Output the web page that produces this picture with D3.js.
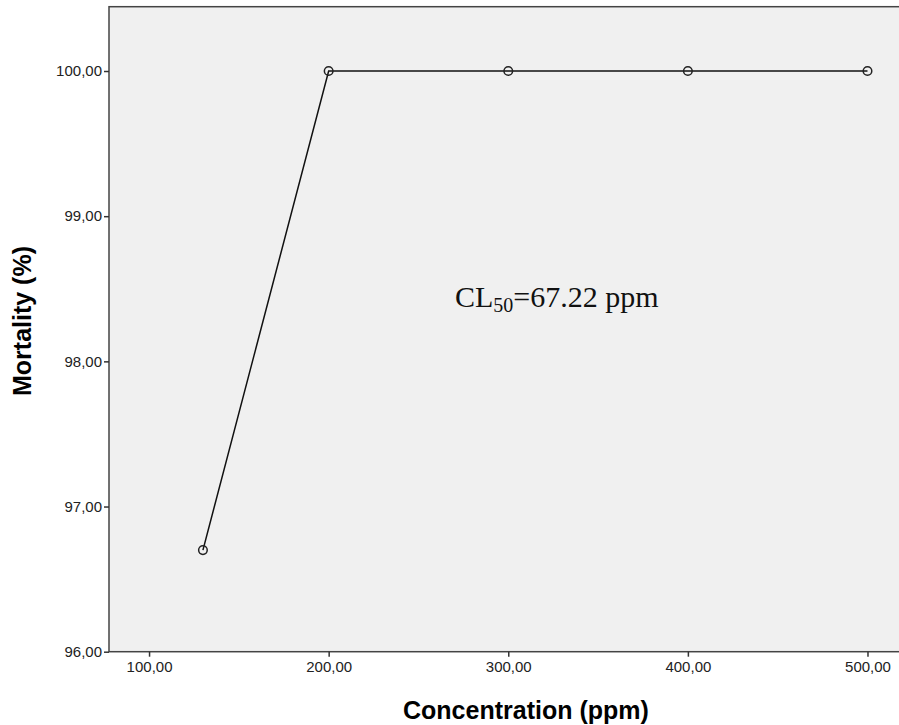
<!DOCTYPE html>
<html><head><meta charset="utf-8">
<script src="https://cdn.jsdelivr.net/npm/d3@7"></script>
<style>body{margin:0;background:#fff}svg{display:block}</style>
</head><body>
<script>
const concentration = [130, 200, 300, 400, 500];
const mortality = [96.7, 100, 100, 100, 100];
const xTicks = [100, 200, 300, 400, 500];
const yTicks = [96, 97, 98, 99, 100];
const xTitle = "Concentration (ppm)";
const yTitle = "Mortality (%)";

const W = 899, H = 725;
const m = {left: 109, top: 6.7, right: 0, bottom: 73.3};
const svg = d3.select("body").append("svg").attr("width", W).attr("height", H);
const x = d3.scaleLinear().domain([77.7, 522]).range([m.left, 907]);
const y = d3.scaleLinear().domain([96, 100.443]).range([H - m.bottom, m.top]);
const fmt = d => d.toFixed(2).replace(".", ",");

svg.append("rect").attr("x", m.left).attr("y", m.top).attr("width", W - m.left + 5)
  .attr("height", H - m.bottom - m.top).attr("fill", "#f0f0f0")
  .attr("stroke", "#444").attr("stroke-width", 1.5);

const gx = svg.append("g").attr("transform", `translate(0,${H - m.bottom})`)
  .call(d3.axisBottom(x).tickValues(xTicks).tickFormat(fmt).tickSize(5).tickPadding(5));
const gy = svg.append("g").attr("transform", `translate(${m.left},0)`)
  .call(d3.axisLeft(y).tickValues(yTicks).tickFormat(fmt).tickSize(5).tickPadding(2));
[gx, gy].forEach(g => {
  g.select(".domain").remove();
  g.selectAll("line").attr("stroke", "#333").attr("stroke-width", 1.5);
  g.selectAll("text").attr("font-family", "Arial, 'Liberation Sans', sans-serif")
    .attr("font-size", 15).attr("fill", "#222");
});

const pts = concentration.map((c, i) => [c, mortality[i]]);
svg.append("path").datum(pts)
  .attr("d", d3.line().x(d => x(d[0])).y(d => y(d[1])))
  .attr("fill", "none").attr("stroke", "#111").attr("stroke-width", 1.5);
svg.selectAll("circle.pt").data(pts).enter().append("circle")
  .attr("cx", d => x(d[0])).attr("cy", d => y(d[1])).attr("r", 4.3)
  .attr("fill", "none").attr("stroke", "#222").attr("stroke-width", 1.5);

const ann = svg.append("text").attr("x", 455).attr("y", 307)
  .attr("font-family", "'Times New Roman', 'Liberation Serif', serif")
  .attr("font-size", 30).attr("fill", "#111");
ann.append("tspan").text("CL");
ann.append("tspan").attr("font-size", 20).attr("dy", 5).text("50");
ann.append("tspan").attr("dy", -5).text("=67.22 ppm");

svg.append("text").attr("x", 403).attr("y", 719).attr("text-anchor", "start")
  .attr("font-family", "Arial, 'Liberation Sans', sans-serif").attr("font-weight", "bold")
  .attr("font-size", 25).attr("fill", "#000").text(xTitle);
svg.append("text").attr("transform", "translate(31,321) rotate(-90)").attr("text-anchor", "middle")
  .attr("font-family", "Arial, 'Liberation Sans', sans-serif").attr("font-weight", "bold")
  .attr("font-size", 25).attr("fill", "#000").text(yTitle);
</script>
</body></html>
